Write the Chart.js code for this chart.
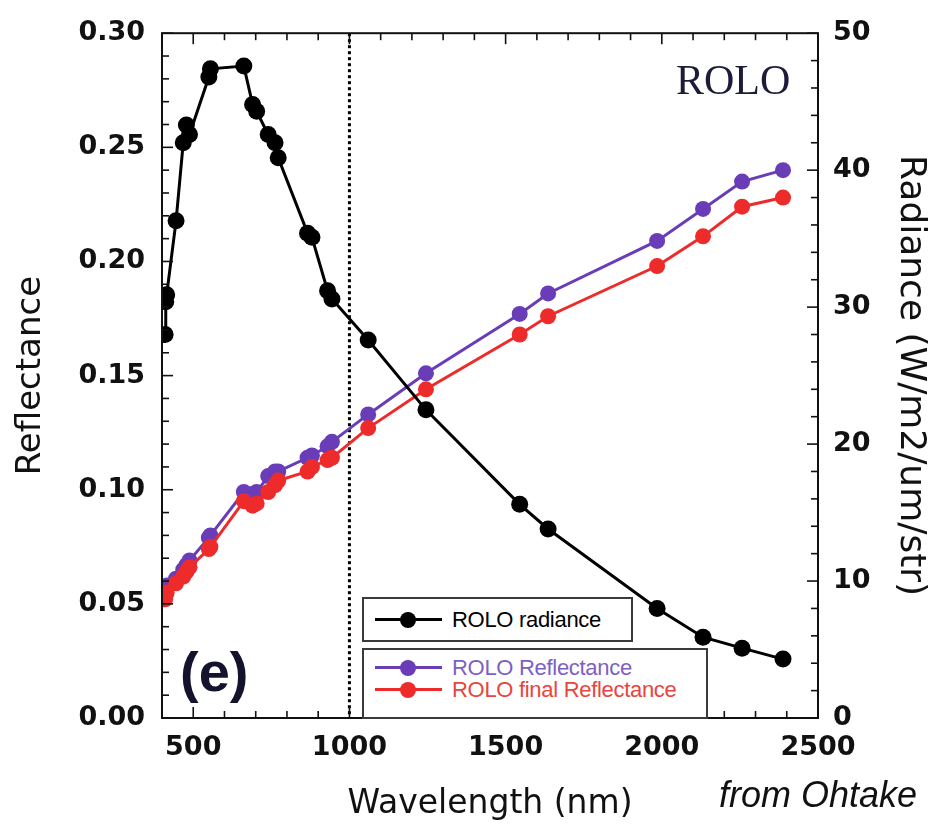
<!DOCTYPE html>
<html>
<head>
<meta charset="utf-8">
<script src="https://cdn.jsdelivr.net/npm/chart.js@4.4.1/dist/chart.umd.min.js"></script>
<style>
  body { margin: 0; background: #fff; }
  #wrap { position: relative; width: 932px; height: 827px; }
  #chart { position: absolute; left: 0; top: 0; }
  .note { position: absolute; white-space: nowrap; }
  .box { position: absolute; box-sizing: border-box; border: 2px solid #3a3a3a; background: #fff; }
  .ln { position: absolute; height: 3px; width: 67px; left: 11px; }
  .dot { position: absolute; width: 16px; height: 16px; border-radius: 50%; left: 36px; }
  .tx { position: absolute; left: 88px; font: 22px "Liberation Sans", Arial, sans-serif; line-height: 24px; letter-spacing: -0.3px; }
</style>
</head>
<body>
<div id="wrap">
  <canvas id="chart" width="932" height="827"></canvas>

  <div class="note" style="left:676px;top:56px;font:42px 'Liberation Serif','Times New Roman',serif;color:#1c1c3a;">ROLO</div>
  <div class="note" style="left:180px;top:640px;font:bold 56px 'Liberation Sans',Arial,sans-serif;color:#13132e;line-height:64px;">(e)</div>
  <div class="note" style="left:719px;top:774px;font:italic 36px 'Liberation Sans',Arial,sans-serif;color:#111;">from Ohtake</div>

  <div class="box" style="left:362px;top:597px;width:271px;height:45px;">
    <span class="ln" style="top:19px;background:#000;"></span>
    <span class="dot" style="top:13px;background:#000;"></span>
    <span class="tx" style="top:9px;color:#000;">ROLO radiance</span>
  </div>
  <div class="box" style="left:362px;top:648px;width:346px;height:71px;">
    <span class="ln" style="top:16px;background:#6a3db8;"></span>
    <span class="dot" style="top:10px;background:#6a3db8;"></span>
    <span class="tx" style="top:6px;color:#7d5fc4;">ROLO Reflectance</span>
    <span class="ln" style="top:38px;background:#ee2b2b;"></span>
    <span class="dot" style="top:32px;background:#ee2b2b;"></span>
    <span class="tx" style="top:28px;color:#e8453c;">ROLO final Reflectance</span>
  </div>
</div>

<script>
// --- Data ---
const wavelengths = [410, 412, 415, 445, 468, 478, 488, 550, 555, 662, 690, 703, 740, 762, 772,
  866, 880, 930, 944, 1060, 1245, 1545, 1636, 1985, 2132, 2257, 2388];
const radiance = [28.0, 30.4, 30.9, 36.3, 42.0, 43.3, 42.6, 46.8, 47.4, 47.6, 44.8, 44.3, 42.6, 42.0, 40.9,
  35.4, 35.1, 31.2, 30.6, 27.6, 22.5, 15.6, 13.8, 8.0, 5.9, 5.1, 4.3];
const reflectance = [0.0557, 0.057, 0.058, 0.061, 0.065, 0.067, 0.069, 0.079, 0.080, 0.099, 0.098, 0.099, 0.106, 0.108, 0.108,
  0.114, 0.115, 0.119, 0.121, 0.133, 0.151, 0.177, 0.186, 0.209, 0.223, 0.235, 0.240];
const finalReflectance = [0.052, 0.054, 0.055, 0.059, 0.062, 0.064, 0.066, 0.074, 0.075, 0.095, 0.093, 0.094, 0.099, 0.102, 0.104,
  0.108, 0.110, 0.113, 0.114, 0.127, 0.144, 0.168, 0.176, 0.198, 0.211, 0.224, 0.228];

const xTicks = [500, 1000, 1500, 2000, 2500];
const reflTicks = [0, 0.05, 0.10, 0.15, 0.20, 0.25, 0.30];
const radTicks = [0, 10, 20, 30, 40, 50];
const dividerWavelength = 1000;

const toPoints = (ys) => wavelengths.map((w, i) => ({ x: w, y: ys[i] }));

const tickFont = { family: "'DejaVu Sans', sans-serif", size: 27, weight: 'bold' };
const titleFont = (size) => ({ family: "'DejaVu Sans', sans-serif", size, weight: 'normal' });
const setTicks = (vals) => (scale) => { scale.ticks = vals.map(v => ({ value: v })); };

// frame, inward ticks and the dotted 1000 nm marker
const framePlugin = {
  id: 'frame',
  beforeDatasetsDraw(chart) {
    const { ctx, chartArea: a, scales: { x } } = chart;
    const px = x.getPixelForValue(dividerWavelength);
    ctx.save();
    ctx.strokeStyle = '#000';
    ctx.lineWidth = 3;
    ctx.setLineDash([3, 3]);
    ctx.beginPath();
    ctx.moveTo(px, a.top);
    ctx.lineTo(px, a.bottom);
    ctx.stroke();
    ctx.restore();
  },
  afterDatasetsDraw(chart) {
    const { ctx, chartArea: a, scales: { x, y, y2 } } = chart;
    ctx.save();
    ctx.strokeStyle = '#111';
    ctx.lineWidth = 2;
    ctx.strokeRect(a.left, a.top, a.right - a.left, a.bottom - a.top);
    ctx.lineWidth = 1.6;
    const seg = (x1, y1, x2, y2) => { ctx.beginPath(); ctx.moveTo(x1, y1); ctx.lineTo(x2, y2); ctx.stroke(); };
    for (let v = 400; v <= 2500; v += 100) {
      const p = x.getPixelForValue(v);
      const len = v % 500 === 0 ? 11 : 7;
      seg(p, a.bottom, p, a.bottom - len);
      seg(p, a.top, p, a.top + len);
    }
    for (let i = 0; i <= 30; i++) {
      const p = y.getPixelForValue(i / 100);
      seg(a.left, p, a.left + (i % 5 === 0 ? 11 : 7), p);
    }
    for (let v = 0; v <= 50; v += 2) {
      const p = y2.getPixelForValue(v);
      seg(a.right, p, a.right - (v % 10 === 0 ? 11 : 7), p);
    }
    ctx.restore();
  }
};

new Chart(document.getElementById('chart'), {
  type: 'line',
  data: {
    datasets: [
      {
        label: 'ROLO radiance',
        data: toPoints(radiance),
        yAxisID: 'y2',
        borderColor: '#000',
        backgroundColor: '#000',
        borderWidth: 3,
        pointRadius: 8.5,
        pointBorderWidth: 0,
        tension: 0
      },
      {
        label: 'ROLO final Reflectance',
        data: toPoints(finalReflectance),
        yAxisID: 'y',
        borderColor: '#ee2b2b',
        backgroundColor: '#ee2b2b',
        borderWidth: 3,
        pointRadius: 8,
        pointBorderWidth: 0,
        tension: 0
      },
      {
        label: 'ROLO Reflectance',
        data: toPoints(reflectance),
        yAxisID: 'y',
        borderColor: '#6a3db8',
        backgroundColor: '#6a3db8',
        borderWidth: 3,
        pointRadius: 8,
        pointBorderWidth: 0,
        tension: 0
      }
    ]
  },
  options: {
    responsive: false,
    animation: false,
    events: [],
    layout: { padding: { top: 28, left: 0, right: 0, bottom: 0 } },
    plugins: {
      legend: { display: false },
      tooltip: { enabled: false }
    },
    scales: {
      x: {
        type: 'linear',
        position: 'bottom',
        min: 400,
        max: 2500,
        afterBuildTicks: setTicks(xTicks),
        afterFit: (s) => { s.height = 109; },
        grid: { display: false, drawTicks: false },
        border: { display: false },
        ticks: { font: tickFont, color: '#111', padding: 14, maxRotation: 0, callback: (v) => String(v) },
        title: { display: true, text: 'Wavelength (nm)', font: titleFont(33), color: '#111', padding: { top: 0, bottom: 3 } }
      },
      y: {
        type: 'linear',
        position: 'left',
        min: 0,
        max: 0.30,
        afterBuildTicks: setTicks(reflTicks),
        afterFit: (s) => { s.width = 162; },
        grid: { display: false, drawTicks: false },
        border: { display: false },
        ticks: { font: tickFont, color: '#111', padding: 17, callback: (v) => v.toFixed(2) },
        title: { display: true, text: 'Reflectance', font: titleFont(34), color: '#111', padding: { top: 11, bottom: 0 } }
      },
      y2: {
        type: 'linear',
        position: 'right',
        min: 0,
        max: 50,
        afterBuildTicks: setTicks(radTicks),
        afterFit: (s) => { s.width = 114; },
        grid: { display: false, drawTicks: false },
        border: { display: false },
        ticks: { font: tickFont, color: '#111', padding: 15, callback: (v) => String(v) },
        title: { display: true, text: 'Radiance (W/m2/um/str)', font: titleFont(36), color: '#111', padding: { top: 0, bottom: 0 } }
      }
    }
  },
  plugins: [framePlugin]
});
</script>
</body>
</html>
